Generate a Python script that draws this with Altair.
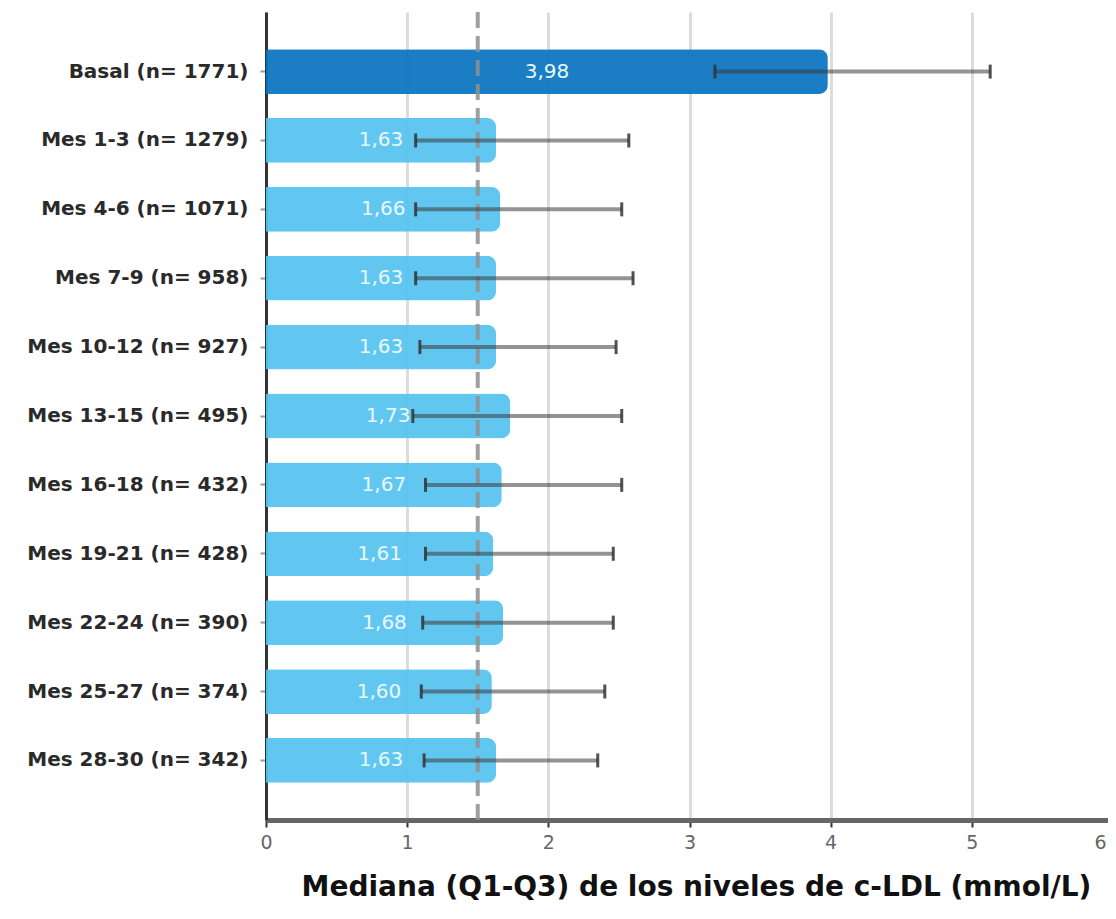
import altair as alt
import pandas as pd

categories = [
    "Basal (n= 1771)", "Mes 1-3 (n= 1279)", "Mes 4-6 (n= 1071)", "Mes 7-9 (n= 958)",
    "Mes 10-12 (n= 927)", "Mes 13-15 (n= 495)", "Mes 16-18 (n= 432)",
    "Mes 19-21 (n= 428)", "Mes 22-24 (n= 390)", "Mes 25-27 (n= 374)",
    "Mes 28-30 (n= 342)",
]
medians = [3.98, 1.63, 1.66, 1.63, 1.63, 1.73, 1.67, 1.61, 1.68, 1.60, 1.63]
q1 = [3.18, 1.06, 1.06, 1.06, 1.09, 1.04, 1.13, 1.13, 1.11, 1.10, 1.12]
q3 = [5.13, 2.57, 2.52, 2.60, 2.48, 2.52, 2.52, 2.46, 2.46, 2.40, 2.35]
groups = ["Basal"] + ["Seguimiento"] * 10
reference_value = [1.5]
x_ticks = [0, 1, 2, 3, 4, 5, 6]

df = pd.DataFrame({
    "cat": categories,
    "median": medians,
    "q1": q1,
    "q3": q3,
    "group": groups,
})
df["label"] = [f"{v:.2f}".replace(".", ",") for v in medians]
df["half"] = df["median"] / 2

FONT = "DejaVu Sans"

x_scale = alt.Scale(domain=[0, 6], nice=False)
y_enc = alt.Y(
    "cat:N",
    sort=categories,
    scale=alt.Scale(paddingInner=0.35, paddingOuter=0.54),
    axis=alt.Axis(
        title=None,
        labelFont=FONT,
        labelFontSize=20,
        labelFontWeight="bold",
        labelColor="#2a2a2a",
        labelPadding=12,
        labelLimit=400,
        tickSize=6,
        tickColor="#999999",
        tickWidth=2,
        domainColor="#333333",
        domainWidth=3,
    ),
)

base = alt.Chart(df)

bars = base.mark_bar(cornerRadiusEnd=9, opacity=0.93).encode(
    x=alt.X(
        "median:Q",
        scale=x_scale,
        axis=alt.Axis(
            title="Mediana (Q1-Q3) de los niveles de c-LDL (mmol/L)",
            titleFont=FONT,
            titleFontSize=28,
            titleFontWeight="bold",
            titleColor="#111111",
            titlePadding=21,
            titleX=430,
            titleAlign="center",
            values=x_ticks,
            format="d",
            labelFont=FONT,
            labelFontSize=19,
            labelColor="#666666",
            labelPadding=6,
            labelFlush=False,
            labelAlign=alt.ExprRef(expr="datum.value == 6 ? 'right' : 'center'"),
            labelOffset=alt.ExprRef(expr="datum.value == 6 ? -7 : 0"),
            tickSize=7,
            tickColor="#333333",
            tickWidth=2,
            domainColor="#666666",
            domainWidth=5,
            grid=True,
            gridColor="#dcdcdc",
            gridWidth=3,
        ),
    ),
    y=y_enc,
    color=alt.Color(
        "group:N",
        scale=alt.Scale(domain=["Basal", "Seguimiento"], range=["#0a74bf", "#56c3ef"]),
        legend=None,
    ),
)

labels = base.mark_text(font=FONT, fontSize=20, color="#e8f8ff").encode(
    x=alt.X("half:Q", scale=x_scale),
    y=alt.Y("cat:N", sort=categories),
    text="label:N",
)

ref = alt.Chart(pd.DataFrame({"ref": reference_value})).mark_rule(
    color="#8f8f8f", strokeWidth=4, strokeDash=[16, 8], opacity=0.85
).encode(x=alt.X("ref:Q", scale=x_scale))

err = base.mark_rule(color="#3a3a3a", strokeWidth=4, opacity=0.55).encode(
    x=alt.X("q1:Q", scale=x_scale),
    x2="q3:Q",
    y=alt.Y("cat:N", sort=categories),
)

cap1 = base.mark_tick(color="#333333", orient="vertical", size=14, thickness=3, opacity=0.85).encode(
    x=alt.X("q1:Q", scale=x_scale),
    y=alt.Y("cat:N", sort=categories),
)
cap3 = base.mark_tick(color="#333333", orient="vertical", size=14, thickness=3, opacity=0.85).encode(
    x=alt.X("q3:Q", scale=x_scale),
    y=alt.Y("cat:N", sort=categories),
)

chart = (
    alt.layer(bars, labels, ref, err, cap1, cap3)
    .properties(
        width=847,
        height=808,
        autosize=alt.AutoSizeParams(type="none"),
        padding={"left": 258, "top": 4, "right": -5, "bottom": 85},
    )
    .configure_view(stroke=None)
)

chart.save("out.html", embed_options={"renderer": "svg", "actions": False})
